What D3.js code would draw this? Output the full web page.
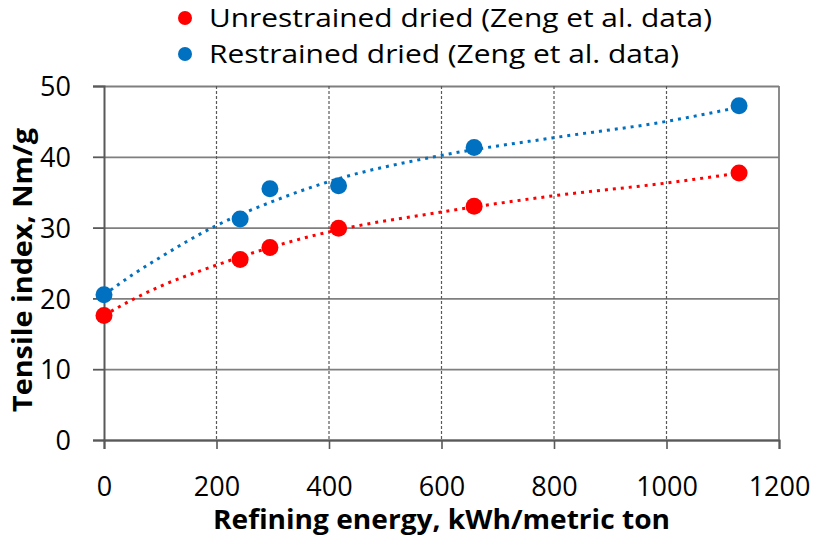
<!DOCTYPE html>
<html lang="en">
<meta charset="utf-8">
<head>
<script src="https://d3js.org/d3.v7.min.js"></script>
<style>
  body { margin: 0; background: #fff; }
  text { font-family: "Open Sans", sans-serif; fill: #000; }
</style>
</head>
<body>
<div id='my_dataviz'></div>
<script>

// measured points (Zeng et al.)
var energy = [0, 242, 295, 417, 658, 1129];
var unrestrained = [17.6, 25.5, 27.2, 29.9, 33.0, 37.7];
var restrained = [20.5, 31.2, 35.5, 35.9, 41.3, 47.2];

// dotted trend curves
var trendEnergy = [0, 50, 100, 200, 300, 400, 600, 800, 1000, 1129];
var unrestrainedTrend = [17.6, 19.8, 21.7, 24.7, 27.3, 29.4, 32.2, 34.5, 36.3, 37.7];
var restrainedTrend = [20.5, 23.3, 25.8, 30.3, 33.7, 36.5, 40.2, 42.7, 45.0, 47.0];

var xTicks = [0, 200, 400, 600, 800, 1000, 1200];
var yTicks = [0, 10, 20, 30, 40, 50];

var seriesNames = ["Unrestrained dried (Zeng et al. data)", "Restrained dried (Zeng et al. data)"];
var seriesColors = ["#ff0000", "#0070c0"];
var legendWidths = [503, 470];

var margin = {top: 86, right: 36, bottom: 100, left: 104},
    width = 815 - margin.left - margin.right,
    height = 540 - margin.top - margin.bottom;

var svg = d3.select("#my_dataviz")
  .append("svg")
  .attr("width", 815)
  .attr("height", 540);

var g = svg.append("g")
  .attr("transform", "translate(" + margin.left + "," + margin.top + ")");

var x = d3.scaleLinear().domain([0, 1200]).range([0, width]);
var y = d3.scaleLinear().domain([0, 50]).range([height, 0]);

// horizontal grid (solid)
g.append("g")
  .call(d3.axisLeft(y).tickValues(yTicks).tickSize(-width).tickFormat(""))
  .call(s => s.select(".domain").remove())
  .selectAll("line")
    .attr("stroke", "#7f7f7f")
    .attr("stroke-width", 1.8);

// vertical grid (dashed)
g.append("g")
  .selectAll("line")
  .data(xTicks.slice(1, -1))
  .enter()
  .append("line")
    .attr("x1", d => x(d)).attr("x2", d => x(d))
    .attr("y1", 0).attr("y2", height)
    .attr("stroke", "#595959")
    .attr("stroke-width", 1.2)
    .attr("stroke-dasharray", "3,2");

// right border
g.append("line")
  .attr("x1", width).attr("x2", width)
  .attr("y1", 0).attr("y2", height)
  .attr("stroke", "#7f7f7f").attr("stroke-width", 1.8);

// y axis
var yAxis = g.append("g")
  .call(d3.axisLeft(y).tickValues(yTicks).tickSize(11).tickPadding(22).tickFormat(d3.format("d")));
yAxis.select(".domain").attr("stroke", "#595959").attr("stroke-width", 2);
yAxis.selectAll(".tick line").attr("stroke", "#595959").attr("stroke-width", 1.8);
yAxis.selectAll("text").style("font-size", "27px").style("font-family", "Open Sans").attr("dy", "0.36em");

// x axis
var xAxis = g.append("g")
  .attr("transform", "translate(0," + height + ")")
  .call(d3.axisBottom(x).tickValues(xTicks).tickSize(9).tickFormat(d3.format("d")));
xAxis.select(".domain").attr("stroke", "#595959").attr("stroke-width", 2);
xAxis.selectAll(".tick line").attr("stroke", "#595959").attr("stroke-width", 1.6);
xAxis.selectAll("text")
  .style("font-size", "27px").style("font-family", "Open Sans")
  .attr("y", 56).attr("dy", 0);

// trend lines
var trends = [unrestrainedTrend, restrainedTrend];
var line = d3.line()
  .x(d => x(d[0]))
  .y(d => y(d[1]))
  .curve(d3.curveMonotoneX);

trends.forEach(function(t, i) {
  g.append("path")
    .datum(trendEnergy.map((e, j) => [e, t[j]]))
    .attr("d", line)
    .attr("fill", "none")
    .attr("stroke", seriesColors[i])
    .attr("stroke-width", 3)
    .attr("stroke-dasharray", "3,5");
});

// points
var series = [unrestrained, restrained];
series.forEach(function(s, i) {
  g.append("g")
    .selectAll("circle")
    .data(energy.map((e, j) => [e, s[j]]))
    .enter()
    .append("circle")
      .attr("cx", d => x(d[0]))
      .attr("cy", d => y(d[1]))
      .attr("r", 8.5)
      .attr("fill", seriesColors[i]);
});

// legend
var legend = svg.append("g");
seriesNames.forEach(function(name, i) {
  legend.append("circle")
    .attr("cx", 185).attr("cy", 18 + i * 36)
    .attr("r", 7)
    .attr("fill", seriesColors[i]);
  legend.append("text")
    .attr("x", 209).attr("y", 27 + i * 36)
    .attr("textLength", legendWidths[i])
    .attr("lengthAdjust", "spacingAndGlyphs")
    .style("font-size", "25px")
    .text(name);
});

// axis titles
svg.append("text")
  .attr("x", margin.left + x(600))
  .attr("y", 529)
  .attr("text-anchor", "middle")
  .attr("textLength", 457)
  .attr("lengthAdjust", "spacingAndGlyphs")
  .style("font-size", "26px")
  .style("font-weight", "bold")
  .text("Refining energy, kWh/metric ton");

svg.append("text")
  .attr("transform", "translate(32,270) rotate(-90)")
  .attr("text-anchor", "middle")
  .attr("textLength", 284)
  .attr("lengthAdjust", "spacingAndGlyphs")
  .style("font-size", "26px")
  .style("font-weight", "bold")
  .text("Tensile index, Nm/g");

</script>
</body>
</html>
